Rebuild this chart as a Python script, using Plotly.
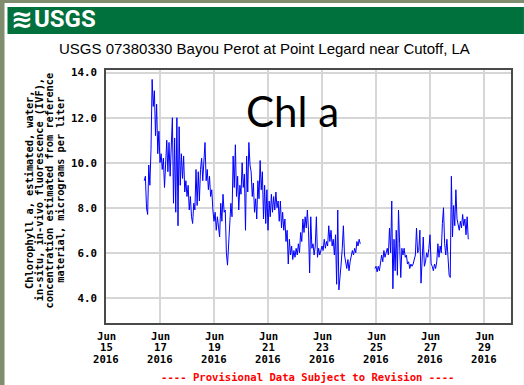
import pandas as pd
import plotly.graph_objects as go

# Hourly chlorophyll-a readings (micrograms per liter), two continuous runs
seg1_start = "2016-06-16 10:00"
seg1_values = [
    9.2, 9.4, 8.0, 7.7, 9.9, 9.0, 10.6, 13.7, 12.5, 13.2,
    11.2, 12.6, 10.4, 11.4, 10.0, 10.4, 9.7, 10.2, 8.9, 9.8,
    11.0, 9.6, 10.9, 9.4, 10.6, 12.0, 8.2, 11.1, 7.8, 12.0,
    7.2, 11.6, 9.0, 10.4, 9.3, 10.3, 8.7, 9.2, 8.5, 9.0,
    7.9, 8.5, 7.6, 7.3, 8.2, 7.9, 9.7, 8.1, 9.6, 8.3,
    9.7, 10.2, 9.2, 10.0, 10.9, 9.2, 9.7, 8.8, 9.4, 8.5,
    8.8, 7.9, 7.4, 7.8, 7.0, 7.6, 7.2, 6.7, 8.2, 7.4,
    8.6, 7.8, 7.9, 6.0, 5.45, 6.3, 7.4, 8.2, 7.6, 10.3,
    8.9, 10.8, 8.5, 9.4, 7.9, 9.0, 8.6, 10.0, 8.9, 9.5,
    7.0, 10.3, 8.7, 10.9, 9.9, 9.6, 8.5, 9.1, 7.8, 8.4,
    7.5, 9.2, 8.4, 10.1, 8.8, 9.6, 7.5, 9.0, 7.3, 8.8,
    7.0, 8.3, 7.6, 8.6, 7.8, 8.5, 7.9, 8.7, 8.0, 8.3,
    7.4, 8.3, 7.1, 7.8, 7.0, 7.5, 6.5, 7.0, 5.5, 6.6,
    5.9, 6.3, 5.7, 6.1, 5.8, 6.2, 5.9, 6.4, 6.0, 6.9,
    6.5, 7.5, 6.9, 7.6, 7.1, 7.9, 7.0, 5.1, 7.6, 6.2,
    6.4, 5.9, 6.3, 7.6, 5.8, 6.2, 5.9, 6.1, 6.3, 6.1,
    6.6, 6.2, 6.5, 6.3, 7.2, 6.5, 7.0, 6.3, 6.6, 5.9,
    6.8, 4.6, 7.9, 4.35, 4.8, 5.5, 6.2, 7.2, 5.9, 5.6,
    5.3, 5.7, 5.2, 5.6, 5.9, 6.1, 5.9, 6.2, 6.0, 6.5,
    6.3, 6.6, 6.4,
]

seg2_start = "2016-06-24 23:00"
seg2_values = [
    5.3, 5.4, 5.15, 5.4, 5.2, 5.7, 5.9, 5.6, 6.1, 5.8,
    6.0, 6.2, 5.9, 7.1, 6.0, 8.3, 4.4, 6.6, 5.2, 7.0,
    5.0, 7.9, 6.4, 4.9, 6.2, 5.9, 6.2, 5.8, 5.9, 5.5,
    5.6, 5.3, 5.5, 5.4, 5.5, 5.7, 5.9, 7.1, 6.0, 6.1,
    7.0, 4.65, 5.6, 6.7, 5.4, 5.6, 6.0, 5.8, 6.2, 6.8,
    5.5, 5.4, 5.2, 5.5, 5.3, 5.6, 6.4, 5.8, 6.3, 6.0,
    7.3, 8.0, 6.4, 5.9, 6.6, 5.6, 5.0, 4.9, 9.4, 6.7,
    8.1, 7.2, 8.8, 7.5, 7.2, 7.0, 7.4, 7.1, 7.7, 7.2,
    7.5, 6.8, 7.6, 6.6,
]

x_tick_dates = ["2016-06-15", "2016-06-17", "2016-06-19", "2016-06-21",
                "2016-06-23", "2016-06-25", "2016-06-27", "2016-06-29"]
x_tick_month = ["Jun", "Jun", "Jun", "Jun", "Jun", "Jun", "Jun", "Jun"]
x_tick_day = ["15", "17", "19", "21", "23", "25", "27", "29"]
x_tick_year = ["2016", "2016", "2016", "2016", "2016", "2016", "2016", "2016"]
y_tick_vals = [4, 6, 8, 10, 12, 14]
y_tick_text = ["4.0", "6.0", "8.0", "10.0", "12.0", "14.0"]

title_text = "USGS 07380330 Bayou Perot at Point Legard near Cutoff, LA"
y_title_lines = [
    "Chlorophyll a, estimated, water,",
    "in-situ, in-vivo fluorescence (IVF),",
    "concentration estimated from reference",
    "material, micrograms per liter",
]
label_text = "Chl a"
footer_text = "---- Provisional Data Subject to Revision ----"

# Assemble one series with a break between the two runs
t1 = pd.date_range(seg1_start, periods=len(seg1_values), freq="h")
t2 = pd.date_range(seg2_start, periods=len(seg2_values), freq="h")
xs = list(t1) + [t1[-1] + pd.Timedelta(hours=1)] + list(t2)
ys = list(seg1_values) + [None] + list(seg2_values)

W, H = 524, 385
L, R, T, B = 106, 11, 70, 62
PW, PH = W - L - R, H - T - B


def px(x):
    return (x - L) / PW


def py(y):
    return (H - B - y) / PH


MONO = "DejaVu Sans Mono, Liberation Mono, monospace"

fig = go.Figure()
fig.add_trace(go.Scatter(
    x=xs, y=ys, mode="lines",
    line=dict(color="#0000ff", width=1),
    connectgaps=False, hoverinfo="skip", showlegend=False,
))

shapes = [
    # white page over the textured backdrop
    dict(type="rect", xref="paper", yref="paper", layer="below",
         x0=px(4), x1=px(W + 2), y0=py(H + 2), y1=py(3),
         fillcolor="white", line=dict(width=0)),
    # green banner
    dict(type="rect", xref="paper", yref="paper", layer="below",
         x0=px(7), x1=px(W + 2), y0=py(34), y1=py(7),
         fillcolor="#00703c", line=dict(width=0)),
]

annotations = [
    dict(text="≋", x=px(22), y=py(19), xref="paper", yref="paper",
         xanchor="center", yanchor="middle", showarrow=False,
         font=dict(family="DejaVu Sans", size=26, color="white", weight="bold")),
    dict(text="USGS", x=px(32), y=py(19), xref="paper", yref="paper",
         xanchor="left", yanchor="middle", showarrow=False,
         font=dict(family="Liberation Sans Narrow, Roboto, Arial, sans-serif",
                   size=24, color="white", weight="bold")),
    dict(text=title_text, x=px(265), y=py(48), xref="paper", yref="paper",
         xanchor="center", yanchor="middle", showarrow=False,
         font=dict(family="Liberation Sans, Arial, sans-serif", size=15, color="black")),
    dict(text=label_text, x=px(245), y=py(111), xref="paper", yref="paper",
         xanchor="left", yanchor="middle", showarrow=False,
         font=dict(family="Lato, Open Sans, sans-serif", size=42, color="black")),
    dict(text=footer_text, x=px(308), y=py(377), xref="paper", yref="paper",
         xanchor="center", yanchor="middle", showarrow=False,
         font=dict(family=MONO, size=10.6, color="#ff0000", weight="bold")),
]
for i, line in enumerate(y_title_lines):
    annotations.append(dict(
        text=line, x=px(28.5 + 10.3 * i), y=py(190), xref="paper", yref="paper",
        xanchor="center", yanchor="middle", showarrow=False, textangle=-90,
        font=dict(family=MONO, size=10.3, color="black", weight="bold"),
    ))

# Three-row date labels under each vertical gridline, tight row spacing
tick_font = dict(family=MONO, size=10.6, color="black", weight="bold")
for d, m, dd, yy in zip(x_tick_dates, x_tick_month, x_tick_day, x_tick_year):
    for txt, row_y in ((m, 335.7), (dd, 347.4), (yy, 359.2)):
        annotations.append(dict(
            text=txt, x=d, y=py(row_y), xref="x", yref="paper",
            xanchor="center", yanchor="middle", showarrow=False,
            font=tick_font,
        ))

fig.update_layout(
    width=W, height=H, autosize=False,
    margin=dict(l=L, r=R, t=T, b=B, pad=0),
    paper_bgcolor="#7f8c6e", plot_bgcolor="white",
    shapes=shapes, annotations=annotations,
    xaxis=dict(
        type="date", range=["2016-06-15", "2016-06-30"],
        tickvals=x_tick_dates, showticklabels=False,
        showgrid=True, gridcolor="#d6d6d6", gridwidth=1.5,
        showline=True, linecolor="#4a4a4a", linewidth=1.5, mirror=True,
        ticks="", zeroline=False,
    ),
    yaxis=dict(
        range=[2.88, 14.12],
        tickvals=y_tick_vals, ticktext=y_tick_text,
        tickfont=dict(family=MONO, size=10.8, color="black", weight="bold"),
        showgrid=True, gridcolor="#d6d6d6", gridwidth=1.5,
        showline=True, linecolor="#4a4a4a", linewidth=1.5, mirror=True,
        ticks="", zeroline=False, ticklabelstandoff=5,
    ),
)

fig.write_html("out.html")
